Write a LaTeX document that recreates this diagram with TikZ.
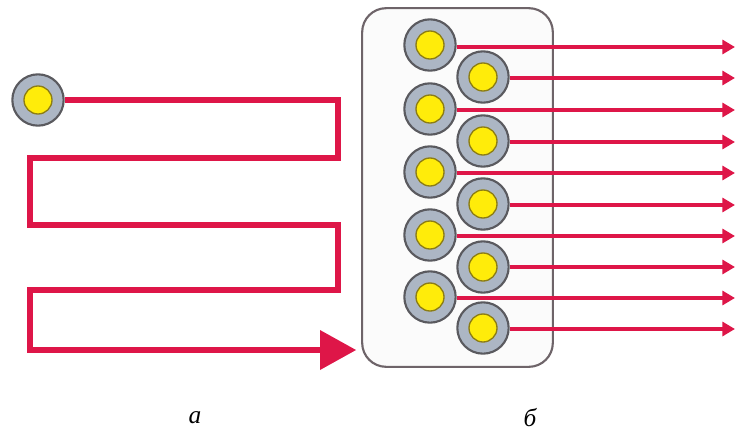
\documentclass[tikz,border=0pt]{standalone}
\usepackage{fontspec}
\newfontfamily\labfont{Liberation Serif}
\usetikzlibrary{arrows.meta}
\definecolor{flowred}{RGB}{222,22,72}
\definecolor{ringgray}{RGB}{172,182,196}
\definecolor{ringedge}{RGB}{90,90,95}
\definecolor{coreyellow}{RGB}{255,236,10}
\definecolor{coreedge}{RGB}{140,125,20}
\definecolor{boxedge}{RGB}{110,100,105}
\begin{document}
\begin{tikzpicture}[x=0.75pt,y=-0.75pt,
  ring/.style={circle, inner sep=0pt, minimum size=38.5pt, fill=ringgray, draw=ringedge, line width=1.6pt,
    path picture={\draw[fill=coreyellow, draw=coreedge, line width=1pt] (path picture bounding box.center) circle (10.5pt);}},
  flow/.style={draw=flowred, line width=3.8pt, line join=miter},
  ray/.style={draw=flowred, line width=3.3pt, -{Triangle[length=9.5pt,width=10.5pt]}},
  lab/.style={font=\labfont\itshape\fontsize{19}{22}\selectfont, inner sep=0pt}]
\useasboundingbox (0,0) rectangle (741,432);
\fill[white] (0,0) rectangle (741,432);
% box
\node[draw=boxedge, line width=1.6pt, rounded corners=18pt, fill=white!97!gray,
  minimum width=143pt, minimum height=269pt, inner sep=0pt] (box) at (457.5,187.5) {};
% ray ends
\coordinate (R1) at (735,47);
\coordinate (R2) at (735,78);
\coordinate (R3) at (735,110);
\coordinate (R4) at (735,142);
\coordinate (R5) at (735,173);
\coordinate (R6) at (735,205);
\coordinate (R7) at (735,236);
\coordinate (R8) at (735,267);
\coordinate (R9) at (735,298);
\coordinate (R10) at (735,329);
% circles
\node[ring] (a1) at (430,45) {};
\node[ring] (b1) at (483,77) {};
\node[ring] (a2) at (430,109) {};
\node[ring] (b2) at (483,141) {};
\node[ring] (a3) at (430,172) {};
\node[ring] (b3) at (483,204) {};
\node[ring] (a4) at (430,235) {};
\node[ring] (b4) at (483,267) {};
\node[ring] (a5) at (430,297) {};
\node[ring] (b5) at (483,328) {};
\draw[ray] (a1.east |- R1) -- (R1);
\draw[ray] (b1.east |- R2) -- (R2);
\draw[ray] (a2.east |- R3) -- (R3);
\draw[ray] (b2.east |- R4) -- (R4);
\draw[ray] (a3.east |- R5) -- (R5);
\draw[ray] (b3.east |- R6) -- (R6);
\draw[ray] (a4.east |- R7) -- (R7);
\draw[ray] (b4.east |- R8) -- (R8);
\draw[ray] (a5.east |- R9) -- (R9);
\draw[ray] (b5.east |- R10) -- (R10);
% serpentine
\node[ring] (s) at (38,100) {};
\coordinate (end) at (356,350);
\draw[flow] (s.east) -- (338,100) -- (338,158) -- (30,158) -- (30,225) -- (338,225)
  -- (338,290) -- (30,290) -- (30,350) -- (320,350);
\fill[flowred] (320,330) -- (end) -- (320,370) -- cycle;
% labels
\node[lab] (la) at (195,418) {а};
\node[lab] (lb) at (530,418) {б};
\end{tikzpicture}
\end{document}
